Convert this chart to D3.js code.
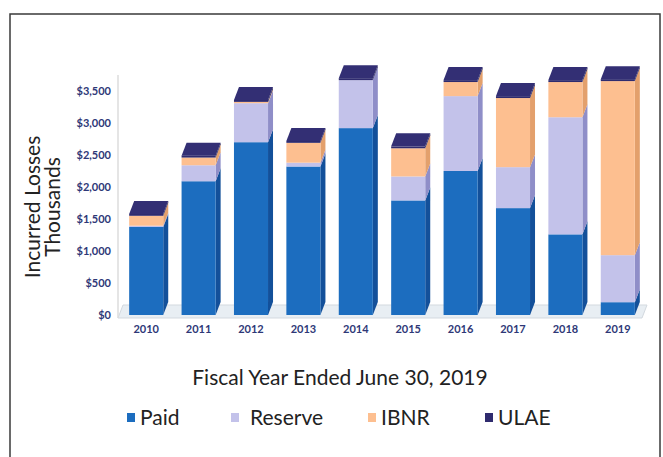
<!DOCTYPE html>
<html>
<head>
<meta charset="utf-8">
<script src="https://cdn.jsdelivr.net/npm/d3@7"></script>
<style>
  body { margin: 0; background: #fff; }
  text { font-family: Lato, "Open Sans", sans-serif; }
</style>
</head>
<body>
<script>
const years = ['2010', '2011', '2012', '2013', '2014', '2015', '2016', '2017', '2018', '2019'];
const paid = [1375, 2090, 2700, 2320, 2920, 1790, 2250, 1670, 1260, 200];
const reserve = [20, 250, 610, 60, 750, 375, 1170, 640, 1830, 735];
const ibnr = [155, 120, 20, 310, 0, 440, 220, 1080, 550, 2720];
const ulae = [30, 30, 30, 30, 30, 30, 30, 30, 30, 30];
const seriesNames = ['Paid', 'Reserve', 'IBNR', 'ULAE'];
const yTicks = [0, 500, 1000, 1500, 2000, 2500, 3000, 3500];

const width = 663;
const height = 457;
const depthX = 5;
const depthY = -13;

const colors = {
  Paid: '#1c6dbf',
  Reserve: '#c3c2ea',
  IBNR: '#fdbf90',
  ULAE: '#2f2b6e'
};
const sideColors = {
  Paid: '#13509a',
  Reserve: '#8f8ec8',
  IBNR: '#e3a06c',
  ULAE: '#231f55'
};

const svg = d3.select('body')
              .append('svg')
              .attr('width', width)
              .attr('height', height);

// outer frame
svg.append('rect')
   .attr('x', 10)
   .attr('y', 14)
   .attr('width', 650)
   .attr('height', 470)
   .attr('fill', '#fff')
   .attr('stroke', '#3a3a3a')
   .attr('stroke-width', 1.5);

const x = d3.scaleBand()
            .domain(years)
            .range([120, 644])
            .paddingInner(0.35)
            .paddingOuter(0.175);

const y = d3.scaleLinear()
            .domain([0, 3500])
            .range([315, 91]);

// stacked table built from the series arrays
const table = years.map((yr, i) => ({
  year: yr, Paid: paid[i], Reserve: reserve[i], IBNR: ibnr[i], ULAE: ulae[i]
}));
const stacked = d3.stack().keys(seriesNames)(table);

// floor and wall edge
const x0 = x.range()[0] - 2;
const x1 = x.range()[1] - 2;
svg.append('path')
   .attr('d', `M${x0},${y(0) + 3} L${x1},${y(0) + 3} L${x1 + depthX},${y(0) + 3 + depthY} L${x0 + depthX},${y(0) + 3 + depthY} Z`)
   .attr('fill', '#e8eef3')
   .attr('stroke', '#d3d9df')
   .attr('stroke-width', 1);
svg.append('line')
   .attr('x1', x0).attr('x2', x0)
   .attr('y1', 75).attr('y2', y(0) + 3)
   .attr('stroke', '#dcdcdc')
   .attr('stroke-width', 1.5);

// y tick labels
svg.append('g')
   .attr('transform', 'translate(111,0)')
   .call(d3.axisLeft(y).tickValues(yTicks).tickSize(0).tickPadding(0)
           .tickFormat(d => '$' + d3.format(',')(d)))
   .call(g => g.select('.domain').remove())
   .selectAll('text')
   .attr('font-size', 11)
   .attr('font-weight', 'bold')
   .attr('fill', '#2e3877');

// x tick labels
svg.append('g')
   .attr('transform', `translate(0,${y(0)})`)
   .call(d3.axisBottom(x).tickSize(0).tickPadding(10))
   .call(g => g.select('.domain').remove())
   .selectAll('text')
   .attr('font-size', 11)
   .attr('font-weight', 'bold')
   .attr('fill', '#2e3877');

// 3d bars: side face, front face, then top face of each stack
const bw = x.bandwidth();
stacked.forEach(layer => {
  const key = layer.key;
  layer.forEach(seg => {
    const left = x(seg.data.year);
    const top = y(seg[1]);
    const bottom = y(seg[0]);
    if (bottom - top <= 0) return;
    const g = svg.append('g');
    g.append('path')
     .attr('d', `M${left + bw},${bottom} L${left + bw},${top} L${left + bw + depthX},${top + depthY} L${left + bw + depthX},${bottom + depthY} Z`)
     .attr('fill', sideColors[key]);
    g.append('rect')
     .attr('x', left)
     .attr('y', top)
     .attr('width', bw)
     .attr('height', bottom - top)
     .attr('fill', colors[key]);
  });
});

table.forEach(d => {
  const left = x(d.year);
  const top = y(d.Paid + d.Reserve + d.IBNR + d.ULAE);
  svg.append('path')
     .attr('d', `M${left},${top} L${left + depthX},${top + depthY} L${left + bw + depthX},${top + depthY} L${left + bw},${top} Z`)
     .attr('fill', '#332f74');
});

// axis titles
svg.append('text')
   .attr('transform', 'translate(40,207) rotate(-90)')
   .attr('text-anchor', 'middle')
   .attr('font-size', 21)
   .attr('fill', '#222')
   .text('Incurred Losses');
svg.append('text')
   .attr('transform', 'translate(60,207) rotate(-90)')
   .attr('text-anchor', 'middle')
   .attr('font-size', 21)
   .attr('fill', '#222')
   .text('Thousands');

svg.append('text')
   .attr('x', 340)
   .attr('y', 385)
   .attr('text-anchor', 'middle')
   .attr('font-size', 21)
   .attr('fill', '#222')
   .text('Fiscal Year Ended June 30, 2019');

// legend
const legendX = [127, 231, 368, 485];
const legend = svg.selectAll('.legend')
                  .data(seriesNames)
                  .enter()
                  .append('g')
                  .attr('class', 'legend')
                  .attr('transform', (d, i) => `translate(${legendX[i]},418)`);
legend.append('rect')
      .attr('x', 0)
      .attr('y', -5)
      .attr('width', 8)
      .attr('height', 9)
      .attr('fill', d => colors[d]);
legend.append('text')
      .attr('x', d => d === 'Reserve' ? 19 : 13)
      .attr('y', 7)
      .attr('font-size', 21)
      .attr('fill', '#222')
      .text(d => d);
</script>
</body>
</html>
